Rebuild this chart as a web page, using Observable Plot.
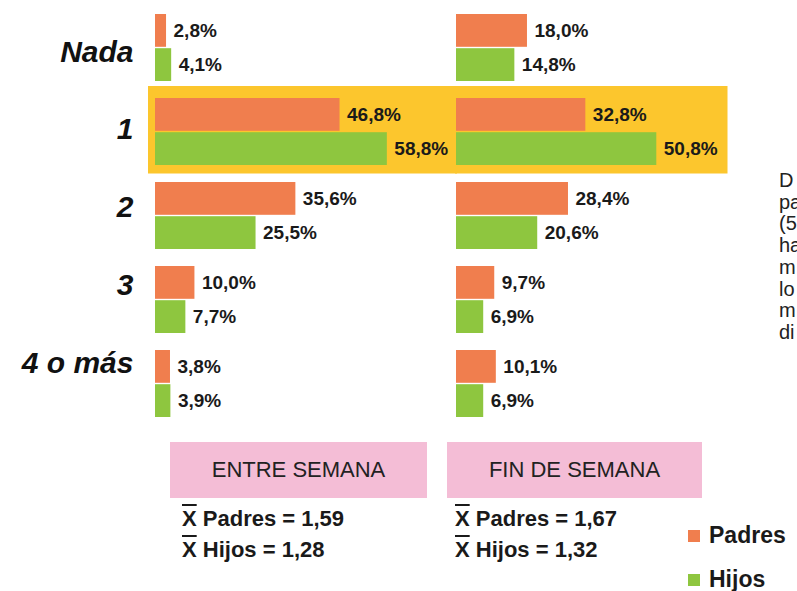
<!DOCTYPE html>
<html>
<head>
<meta charset="utf-8">
<script src="https://cdn.jsdelivr.net/npm/d3@7"></script>
<script src="https://cdn.jsdelivr.net/npm/@observablehq/plot@0.6"></script>
<style>
  html, body { margin: 0; padding: 0; background: #fff; }
  body { font-family: "Liberation Sans", Arial, sans-serif; color: #1a1a1a; }
  #wrap { position: relative; width: 797px; height: 591px; overflow: hidden; background: #fff; }
  #chart { position: absolute; left: 0; top: 0; }
  .pink { position: absolute; top: 442px; height: 56px; background: #f4bdd6; display: flex; align-items: center; justify-content: center; font-size: 22px; color: #222; }
  .means { position: absolute; top: 503px; font-size: 22px; font-weight: bold; line-height: 31px; color: #1a1a1a; }
  .xbar { text-decoration: overline; text-decoration-thickness: 2px; }
  .legend { position: absolute; left: 688px; font-size: 23px; font-weight: bold; color: #1a1a1a; display: flex; align-items: center; }
  .legend .sw { width: 12px; height: 12px; margin-right: 9px; }
  #side { position: absolute; left: 779px; top: 170px; width: 18px; overflow: hidden; font-size: 20px; line-height: 21.7px; color: #222; white-space: nowrap; }
</style>
</head>
<body>
<div id="wrap">
  <div id="chart"></div>
  <div id="bottom"></div>
  <div id="side"></div>
</div>
<script>
// ---- data ----
const categories = ["Nada", "1", "2", "3", "4 o más"];
const periods = ["ENTRE SEMANA", "FIN DE SEMANA"];
const seriesNames = ["Padres", "Hijos"];
const padresEntre = [2.8, 46.8, 35.6, 10.0, 3.8];
const hijosEntre = [4.1, 58.8, 25.5, 7.7, 3.9];
const padresFin = [18.0, 32.8, 28.4, 9.7, 10.1];
const hijosFin = [14.8, 50.8, 20.6, 6.9, 6.9];
const meanPadres = ["1,59", "1,67"];
const meanHijos = ["1,28", "1,32"];
const highlightCategory = "1";
const sideLines = ["D", "pa", "(5", "ha", "m", "lo", "m", "di"];

const colors = { Padres: "#f07e4e", Hijos: "#8ec63f" };
const yellow = "#fcc62d";

const rows = [];
categories.forEach((c, i) => {
  rows.push({ period: periods[0], cat: c, series: "Padres", value: padresEntre[i] });
  rows.push({ period: periods[0], cat: c, series: "Hijos", value: hijosEntre[i] });
  rows.push({ period: periods[1], cat: c, series: "Padres", value: padresFin[i] });
  rows.push({ period: periods[1], cat: c, series: "Hijos", value: hijosFin[i] });
});
const padresRows = rows.filter(d => d.series === "Padres");
const hijosRows = rows.filter(d => d.series === "Hijos");
const fmt = v => v.toFixed(1).replace(".", ",") + "%";

// category labels sit on a slightly tighter rhythm than the bar groups
const labelMarks = categories.map((c, i) => Plot.text([{ cat: c, period: periods[0] }], {
  fx: "period", y: "cat", text: "cat", frameAnchor: "left", textAnchor: "end",
  dx: -22, dy: 4 - 6.25 * i, fontSize: 30, fontWeight: "bold", fontStyle: "italic", fill: "#111"
}));

const chart = Plot.plot({
  width: 797,
  height: 430,
  marginLeft: 155,
  marginRight: 64.5,
  marginTop: 3.5,
  marginBottom: 2.5,
  style: { fontFamily: "'Liberation Sans', Arial, sans-serif", background: "transparent" },
  x: { domain: [0, 70], axis: null },
  y: { domain: categories, paddingInner: 0.2, paddingOuter: 0.1, axis: null },
  fx: { domain: periods, paddingInner: 0.0814, paddingOuter: 0, axis: null },
  color: { domain: seriesNames, range: [colors.Padres, colors.Hijos] },
  marks: [
    Plot.cell([{ period: periods[0], cat: highlightCategory }], {
      fx: "period", y: "cat", fill: yellow,
      insetLeft: -7, insetRight: -26, insetTop: -12, insetBottom: -8.5
    }),
    Plot.cell([{ period: periods[1], cat: highlightCategory }], {
      fx: "period", y: "cat", fill: yellow,
      insetLeft: -1, insetRight: 4.5, insetTop: -12, insetBottom: -8.5
    }),
    Plot.barX(padresRows, { fx: "period", y: "cat", x: "value", fill: "series", insetBottom: 34.2 }),
    Plot.barX(hijosRows, { fx: "period", y: "cat", x: "value", fill: "series", insetTop: 34.2 }),
    Plot.text(padresRows, {
      fx: "period", y: "cat", x: "value", text: d => fmt(d.value),
      dx: 7, dy: -17, textAnchor: "start", fontSize: 19, fontWeight: "bold", fill: "#1a1a1a"
    }),
    Plot.text(hijosRows, {
      fx: "period", y: "cat", x: "value", text: d => fmt(d.value),
      dx: 7, dy: 17, textAnchor: "start", fontSize: 19, fontWeight: "bold", fill: "#1a1a1a"
    }),
    ...labelMarks
  ]
});
document.getElementById("chart").appendChild(chart);

// ---- bottom labels, means, legend ----
const bottom = document.getElementById("bottom");
const boxes = [{ left: 170, width: 257 }, { left: 447, width: 255 }];
const meanLeft = [182, 455];
periods.forEach((p, i) => {
  const b = document.createElement("div");
  b.className = "pink";
  b.style.left = boxes[i].left + "px";
  b.style.width = boxes[i].width + "px";
  b.textContent = p;
  bottom.appendChild(b);
  const m = document.createElement("div");
  m.className = "means";
  m.style.left = meanLeft[i] + "px";
  m.innerHTML = `<div><span class="xbar">X</span> Padres = ${meanPadres[i]}</div>` +
                `<div><span class="xbar">X</span> Hijos = ${meanHijos[i]}</div>`;
  bottom.appendChild(m);
});
const legendTops = [522, 566];
seriesNames.forEach((s, i) => {
  const l = document.createElement("div");
  l.className = "legend";
  l.style.top = legendTops[i] + "px";
  l.innerHTML = `<span class="sw" style="background:${colors[s]}"></span><span>${s}</span>`;
  bottom.appendChild(l);
});
const side = document.getElementById("side");
sideLines.forEach(t => {
  const d = document.createElement("div");
  d.textContent = t;
  side.appendChild(d);
});
</script>
</body>
</html>
